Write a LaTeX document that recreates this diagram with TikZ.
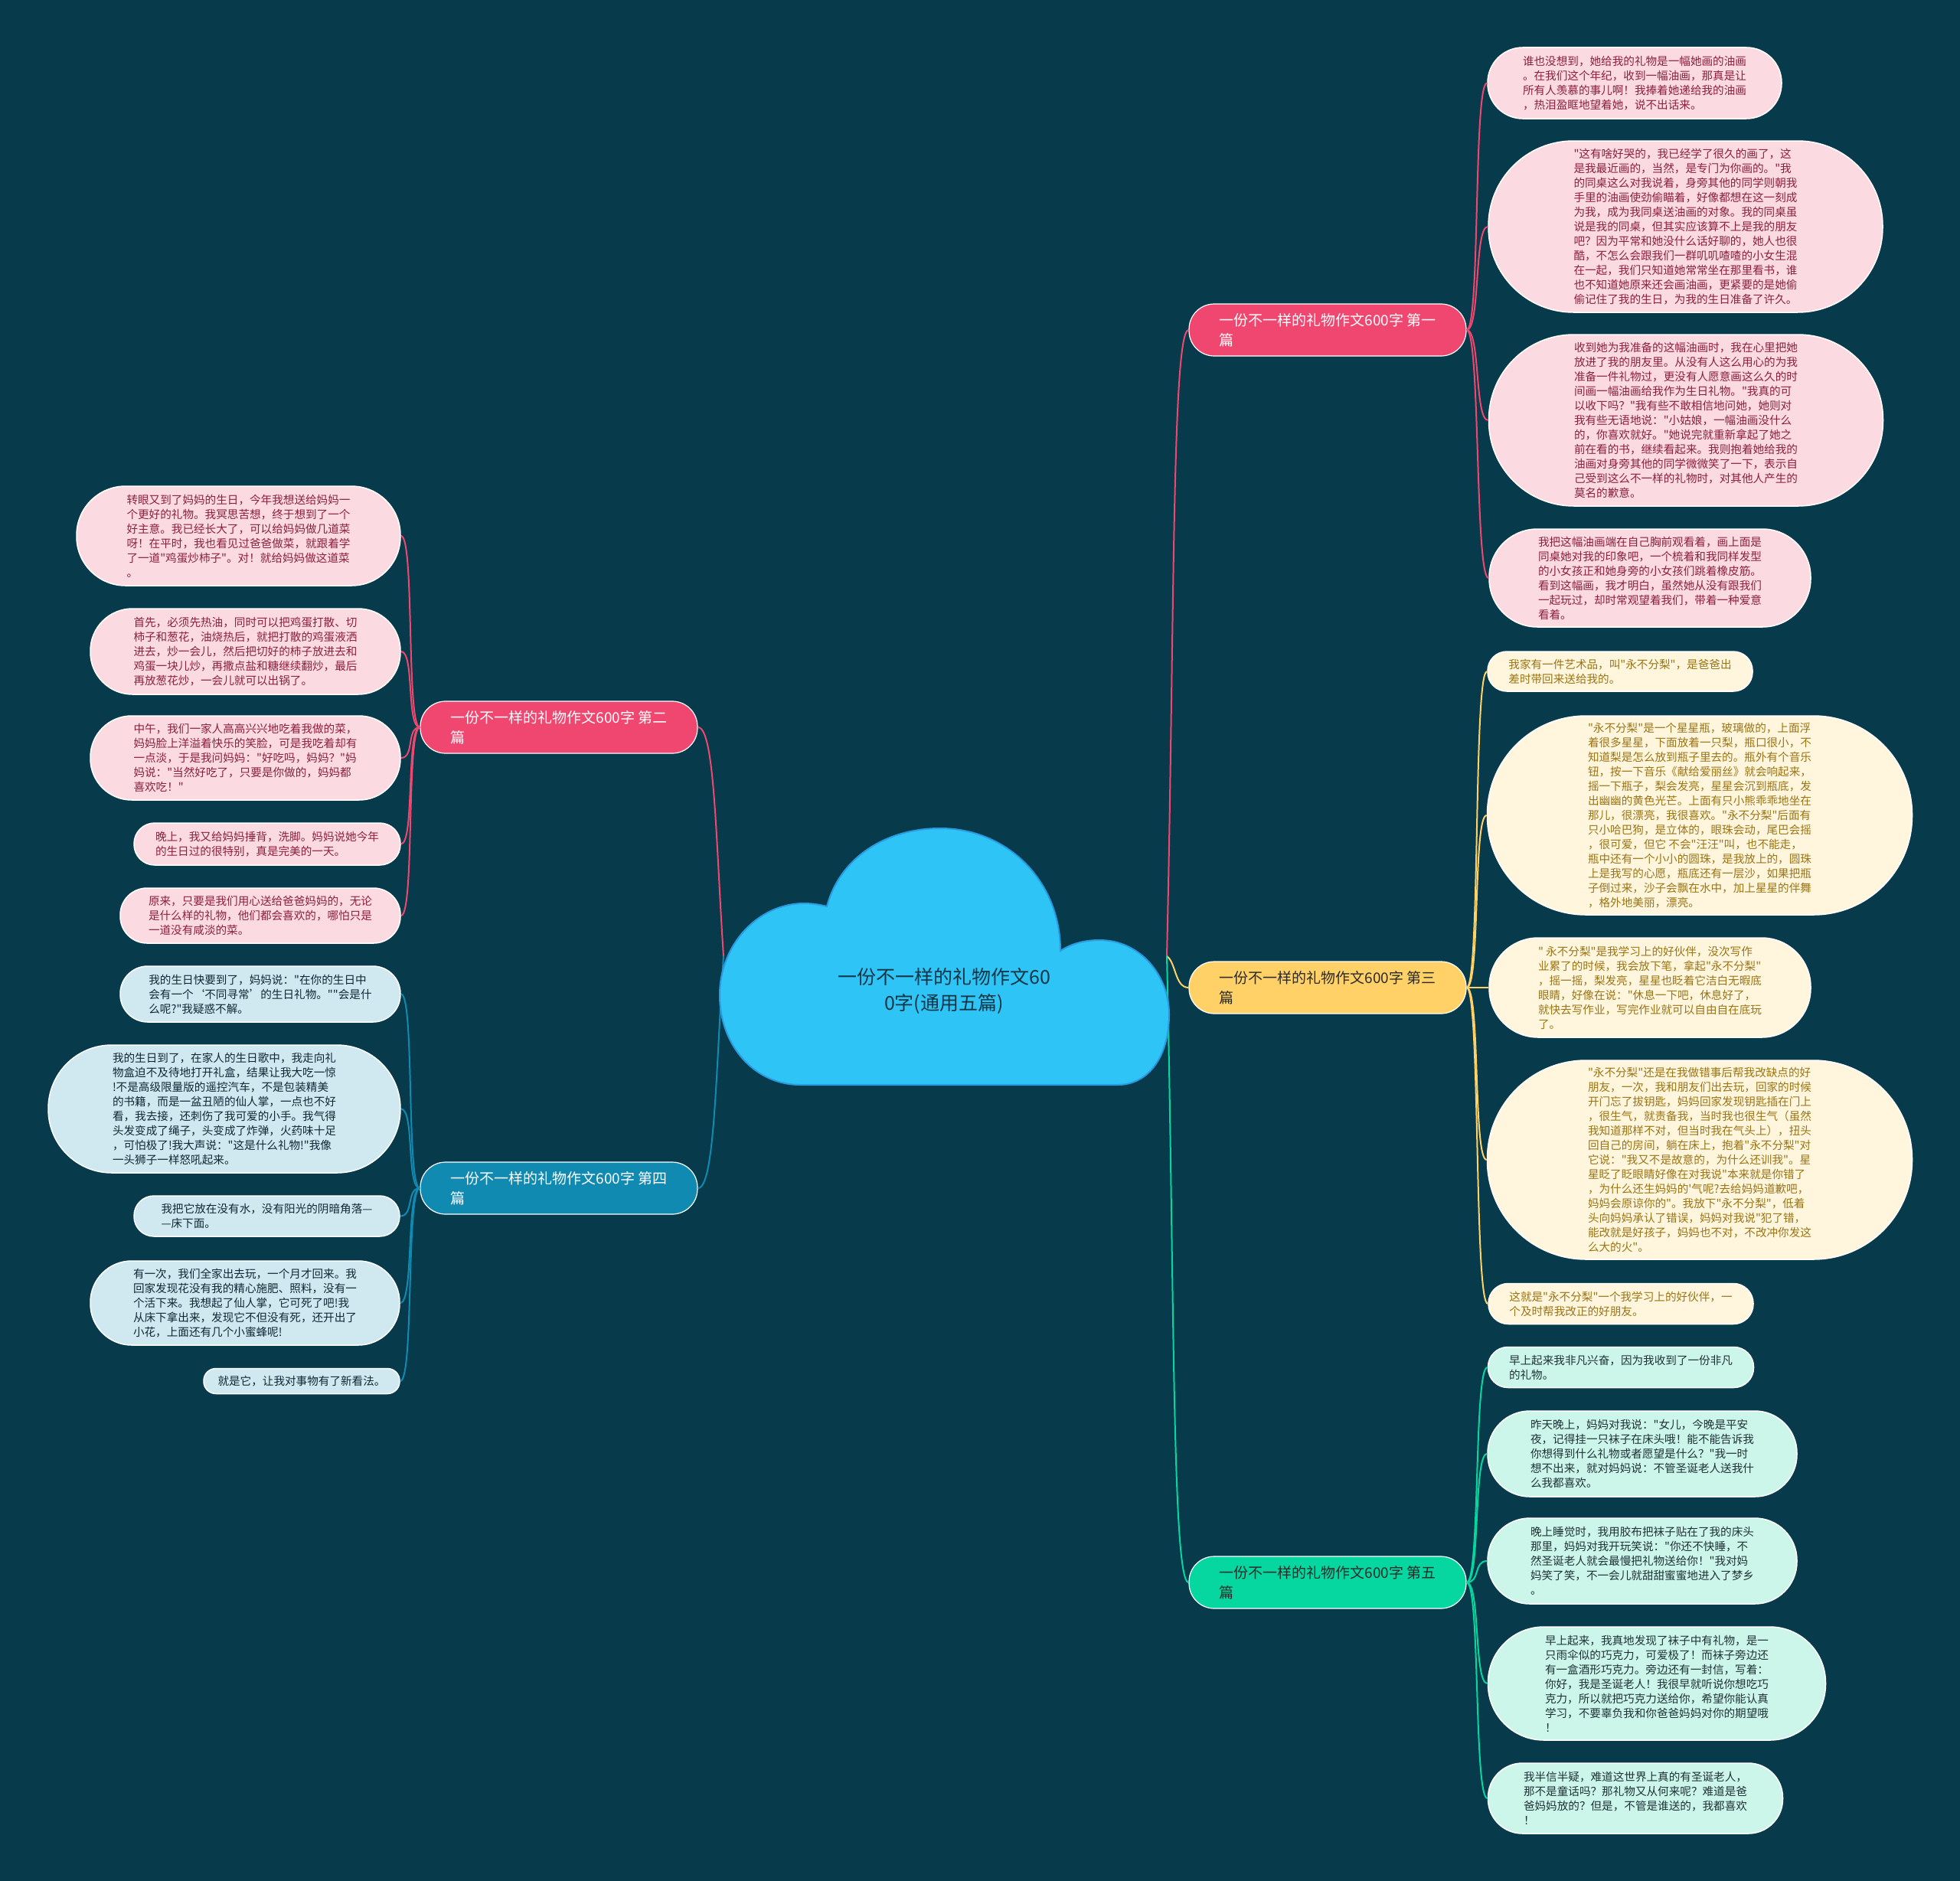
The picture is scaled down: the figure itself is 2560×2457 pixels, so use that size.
\documentclass[tikz,border=0pt]{standalone}
\usepackage{fontspec}
\setmainfont{Noto Sans CJK SC}[Ligatures=TeXOff]
\definecolor{bg}{HTML}{073B4C}
\definecolor{pinkB}{HTML}{EF476F}
\definecolor{yelB}{HTML}{FFD166}
\definecolor{grnB}{HTML}{06D6A0}
\definecolor{bluB}{HTML}{118AB2}
\definecolor{pinkL}{HTML}{FBDAE2}
\definecolor{pinkT}{HTML}{8C1F40}
\definecolor{yelL}{HTML}{FFF6DD}
\definecolor{yelT}{HTML}{9A7415}
\definecolor{grnL}{HTML}{CDF6EB}
\definecolor{grnT}{HTML}{1E3236}
\definecolor{bluL}{HTML}{D0E8F0}
\definecolor{bluT}{HTML}{0F2835}
\definecolor{cloudF}{HTML}{2FC4F6}
\definecolor{cloudD}{HTML}{2A9BE0}
\definecolor{centerT}{HTML}{123646}
\definecolor{darkT}{HTML}{2A2A2A}
\begin{document}
\begin{tikzpicture}[x=1pt,y=-1pt,
  leaf/.style={draw=white, line width=1.5pt, inner sep=0pt, align=left,
    font=\fontsize{14.6}{19}\selectfont},
  box/.style n args={3}{minimum width=#1pt, minimum height=#2pt, rounded corners=#3pt},
  pleaf/.style={leaf, fill=pinkL, text=pinkT},
  yleaf/.style={leaf, fill=yelL, text=yelT},
  gleaf/.style={leaf, fill=grnL, text=grnT},
  bleaf/.style={leaf, fill=bluL, text=bluT},
  branch/.style={draw=white, line width=1.2pt, rounded corners=33pt, minimum width=362pt,
    minimum height=68pt, inner sep=0pt, align=left, font=\fontsize{19}{26}\selectfont},
  conn/.style={line width=2pt}]
\useasboundingbox (0,0) rectangle (2560,2457);
\fill[bg] (0,0) rectangle (2560,2457);

\coordinate (cL) at (945,1249);
\coordinate (cR) at (1524,1249);

% branch nodes
\node[branch, fill=pinkB, text=white] (b1) at (1734,431) {一份不一样的礼物作文600字 第一\\篇};
\node[branch, fill=yelB, text=darkT] (b3) at (1734,1290) {一份不一样的礼物作文600字 第三\\篇};
\node[branch, fill=grnB, text=darkT] (b5) at (1734,2067) {一份不一样的礼物作文600字 第五\\篇};
\node[branch, fill=pinkB, text=white] (b2) at (730,950) {一份不一样的礼物作文600字 第二\\篇};
\node[branch, fill=bluB, text=white] (b4) at (730,1552) {一份不一样的礼物作文600字 第四\\篇};

% leaves branch 1
\node[pleaf, box={384}{93}{46}] (l1a) at (2135,108.5) {谁也没想到，她给我的礼物是一幅她画的油画\\。在我们这个年纪，收到一幅油画，那真是让\\所有人羡慕的事儿啊！我捧着她递给我的油画\\，热泪盈眶地望着她，说不出话来。};
\node[pleaf, box={515}{224}{111}] (l1b) at (2201.5,296) {"这有啥好哭的，我已经学了很久的画了，这\\是我最近画的，当然，是专门为你画的。"我\\的同桌这么对我说着，身旁其他的同学则朝我\\手里的油画使劲偷瞄着，好像都想在这一刻成\\为我，成为我同桌送油画的对象。我的同桌虽\\说是我的同桌，但其实应该算不上是我的朋友\\吧？因为平常和她没什么话好聊的，她人也很\\酷，不怎么会跟我们一群叽叽喳喳的小女生混\\在一起，我们只知道她常常坐在那里看书，谁\\也不知道她原来还会画油画，更紧要的是她偷\\偷记住了我的生日，为我的生日准备了许久。};
\node[pleaf, box={515}{224}{111}] (l1c) at (2202,549) {收到她为我准备的这幅油画时，我在心里把她\\放进了我的朋友里。从没有人这么用心的为我\\准备一件礼物过，更没有人愿意画这么久的时\\间画一幅油画给我作为生日礼物。"我真的可\\以收下吗？"我有些不敢相信地问她，她则对\\我有些无语地说："小姑娘，一幅油画没什么\\的，你喜欢就好。"她说完就重新拿起了她之\\前在看的书，继续看起来。我则抱着她给我的\\油画对身旁其他的同学微微笑了一下，表示自\\己受到这么不一样的礼物时，对其他人产生的\\莫名的歉意。};
\node[pleaf, box={420}{128}{63}] (l1d) at (2155,755) {我把这幅油画端在自己胸前观看着，画上面是\\同桌她对我的印象吧，一个梳着和我同样发型\\的小女孩正和她身旁的小女孩们跳着橡皮筋。\\看到这幅画，我才明白，虽然她从没有跟我们\\一起玩过，却时常观望着我们，带着一种爱意\\看着。};

% leaves branch 3
\node[yleaf, box={346}{52}{25}] (l3a) at (2116,877) {我家有一件艺术品，叫"永不分梨"，是爸爸出\\差时带回来送给我的。};
\node[yleaf, box={555}{260}{129}] (l3b) at (2220,1065) {"永不分梨"是一个星星瓶，玻璃做的，上面浮\\着很多星星，下面放着一只梨，瓶口很小，不\\知道梨是怎么放到瓶子里去的。瓶外有个音乐\\钮，按一下音乐《献给爱丽丝》就会响起来，\\摇一下瓶子，梨会发亮，星星会沉到瓶底，发\\出幽幽的黄色光芒。上面有只小熊乖乖地坐在\\那儿，很漂亮，我很喜欢。"永不分梨"后面有\\只小哈巴狗，是立体的，眼珠会动，尾巴会摇\\，很可爱，但它 不会"汪汪"叫，也不能走，\\瓶中还有一个小小的圆珠，是我放上的，圆珠\\上是我写的心愿，瓶底还有一层沙，如果把瓶\\子倒过来，沙子会飘在水中，加上星星的伴舞\\，格外地美丽，漂亮。};
\node[yleaf, box={420}{130}{64}] (l3c) at (2155,1290) {" 永不分梨"是我学习上的好伙伴，没次写作\\业累了的时候，我会放下笔，拿起"永不分梨"\\，摇一摇，梨发亮，星星也眨着它洁白无暇底\\眼睛，好像在说："休息一下吧，休息好了，\\就快去写作业，写完作业就可以自由自在底玩\\了。};
\node[yleaf, box={555}{260}{129}] (l3d) at (2220,1515) {"永不分梨"还是在我做错事后帮我改缺点的好\\朋友，一次，我和朋友们出去玩，回家的时候\\开门忘了拔钥匙，妈妈回家发现钥匙插在门上\\，很生气，就责备我，当时我也很生气（虽然\\我知道那样不对，但当时我在气头上），扭头\\回自己的房间，躺在床上，抱着"永不分梨"对\\它说："我又不是故意的，为什么还训我"。星\\星眨了眨眼睛好像在对我说"本来就是你错了\\，为什么还生妈妈的'气呢?去给妈妈道歉吧，\\妈妈会原谅你的"。我放下"永不分梨"，低着\\头向妈妈承认了错误，妈妈对我说"犯了错，\\能改就是好孩子，妈妈也不对，不改冲你发这\\么大的火"。};
\node[yleaf, box={346}{53}{26}] (l3e) at (2117,1703) {这就是"永不分梨"一个我学习上的好伙伴，一\\个及时帮我改正的好朋友。};

% leaves branch 5
\node[gleaf, box={347}{53}{26}] (l5a) at (2117,1786) {早上起来我非凡兴奋，因为我收到了一份非凡\\的礼物。};
\node[gleaf, box={404}{112}{55}] (l5b) at (2145,1899) {昨天晚上，妈妈对我说："女儿，今晚是平安\\夜，记得挂一只袜子在床头哦！能不能告诉我\\你想得到什么礼物或者愿望是什么？"我一时\\想不出来，就对妈妈说：不管圣诞老人送我什\\么我都喜欢。};
\node[gleaf, box={404}{112}{55}] (l5c) at (2145,2039) {晚上睡觉时，我用胶布把袜子贴在了我的床头\\那里，妈妈对我开玩笑说："你还不快睡，不\\然圣诞老人就会最慢把礼物送给你！"我对妈\\妈笑了笑，不一会儿就甜甜蜜蜜地进入了梦乡\\。};
\node[gleaf, box={441}{148}{73}] (l5d) at (2164,2199) {早上起来，我真地发现了袜子中有礼物，是一\\只雨伞似的巧克力，可爱极了！而袜子旁边还\\有一盒酒形巧克力。旁边还有一封信，写着：\\你好，我是圣诞老人！我很早就听说你想吃巧\\克力，所以就把巧克力送给你，希望你能认真\\学习，不要辜负我和你爸爸妈妈对你的期望哦\\！};
\node[gleaf, box={385}{92}{45}] (l5e) at (2136,2349) {我半信半疑，难道这世界上真的有圣诞老人，\\那不是童话吗？那礼物又从何来呢？难道是爸\\爸妈妈放的？但是，不管是谁送的，我都喜欢\\！};

% leaves branch 2
\node[pleaf, box={423}{130}{64}] (l2a) at (311.5,700) {转眼又到了妈妈的生日，今年我想送给妈妈一\\个更好的礼物。我冥思苦想，终于想到了一个\\好主意。我已经长大了，可以给妈妈做几道菜\\呀！在平时，我也看见过爸爸做菜，就跟着学\\了一道"鸡蛋炒柿子"。对！就给妈妈做这道菜\\。};
\node[pleaf, box={405}{112}{55}] (l2b) at (320.5,851) {首先，必须先热油，同时可以把鸡蛋打散、切\\柿子和葱花，油烧热后，就把打散的鸡蛋液洒\\进去，炒一会儿，然后把切好的柿子放进去和\\鸡蛋一块儿炒，再撒点盐和糖继续翻炒，最后\\再放葱花炒，一会儿就可以出锅了。};
\node[pleaf, box={405}{110}{54}] (l2c) at (320.5,990) {中午，我们一家人高高兴兴地吃着我做的菜，\\妈妈脸上洋溢着快乐的笑脸，可是我吃着却有\\一点淡，于是我问妈妈："好吃吗，妈妈？"妈\\妈说："当然好吃了，只要是你做的，妈妈都\\喜欢吃！"};
\node[pleaf, box={348}{55}{27}] (l2d) at (349,1102.5) {晚上，我又给妈妈捶背，洗脚。妈妈说她今年\\的生日过的很特别，真是完美的一天。};
\node[pleaf, box={366}{72}{35}] (l2e) at (340,1196) {原来，只要是我们用心送给爸爸妈妈的，无论\\是什么样的礼物，他们都会喜欢的，哪怕只是\\一道没有咸淡的菜。};

% leaves branch 4
\node[bleaf, box={366}{73}{36}] (l4a) at (340,1298.5) {我的生日快要到了，妈妈说："在你的生日中\\会有一个‘不同寻常’的生日礼物。""会是什\\么呢?"我疑惑不解。};
\node[bleaf, box={460}{167}{83}] (l4b) at (293,1448.5) {我的生日到了，在家人的生日歌中，我走向礼\\物盒迫不及待地打开礼盒，结果让我大吃一惊\\!不是高级限量版的遥控汽车，不是包装精美\\的书籍，而是一盆丑陋的仙人掌，一点也不好\\看，我去接，还刺伤了我可爱的小手。我气得\\头发变成了绳子，头变成了炸弹，火药味十足\\，可怕极了!我大声说："这是什么礼物!"我像\\一头狮子一样怒吼起来。};
\node[bleaf, box={347}{53}{26}] (l4c) at (348.5,1588.5) {我把它放在没有水，没有阳光的阴暗角落—\\—床下面。};
\node[bleaf, box={404}{110}{54}] (l4d) at (320,1702) {有一次，我们全家出去玩，一个月才回来。我\\回家发现花没有我的精心施肥、照料，没有一\\个活下来。我想起了仙人掌，它可死了吧!我\\从床下拿出来，发现它不但没有死，还开出了\\小花，上面还有几个小蜜蜂呢!};
\node[bleaf, box={256}{33}{16}] (l4e) at (394,1804) {就是它，让我对事物有了新看法。};

% center connectors
\draw[conn, pinkB] (cR) .. controls +(10,-420) and +(-22,0) .. (b1.west);
\draw[conn, yelB] (cR) .. controls +(12,8) and +(-18,0) .. (b3.west);
\draw[conn, grnB] (cR) .. controls +(10,420) and +(-22,0) .. (b5.west);
\draw[conn, pinkB] (cL) .. controls +(-10,-150) and +(22,0) .. (b2.east);
\draw[conn, bluB] (cL) .. controls +(-10,150) and +(22,0) .. (b4.east);

% branch to leaves
\foreach \l in {l1a,l1b,l1c,l1d}
  \draw[conn, pinkB] (b1.east) .. controls +(18,0) and +(-18,0) .. (\l.west);
\foreach \l in {l3a,l3b,l3c,l3d,l3e}
  \draw[conn, yelB] (b3.east) .. controls +(18,0) and +(-18,0) .. (\l.west);
\foreach \l in {l5a,l5b,l5c,l5d,l5e}
  \draw[conn, grnB] (b5.east) .. controls +(18,0) and +(-18,0) .. (\l.west);
\foreach \l in {l2a,l2b,l2c,l2d,l2e}
  \draw[conn, pinkB] (b2.west) .. controls +(-18,0) and +(18,0) .. (\l.east);
\foreach \l in {l4a,l4b,l4c,l4d,l4e}
  \draw[conn, bluB] (b4.west) .. controls +(-18,0) and +(18,0) .. (\l.east);

% cloud
\draw[fill=cloudF, draw=cloudD, line width=2pt]
  (1045,1417) .. controls (985,1417) and (940,1365) .. (940,1300)
  .. controls (940,1232) and (992,1180) .. (1050,1180)
  .. controls (1062,1180) and (1072,1182) .. (1080,1184)
  .. controls (1097,1120) and (1157,1082) .. (1228,1082)
  .. controls (1315,1082) and (1385,1150) .. (1385,1242)
  .. controls (1400,1232) and (1418,1228) .. (1436,1228)
  .. controls (1490,1228) and (1527,1275) .. (1527,1325)
  .. controls (1527,1380) and (1500,1417) .. (1460,1417) -- cycle;
\node[font=\fontsize{25}{34}\selectfont, text=centerT, align=center] (c) at (1233,1294) {一份不一样的礼物作文60\\0字(通用五篇)};
\end{tikzpicture}
\end{document}
